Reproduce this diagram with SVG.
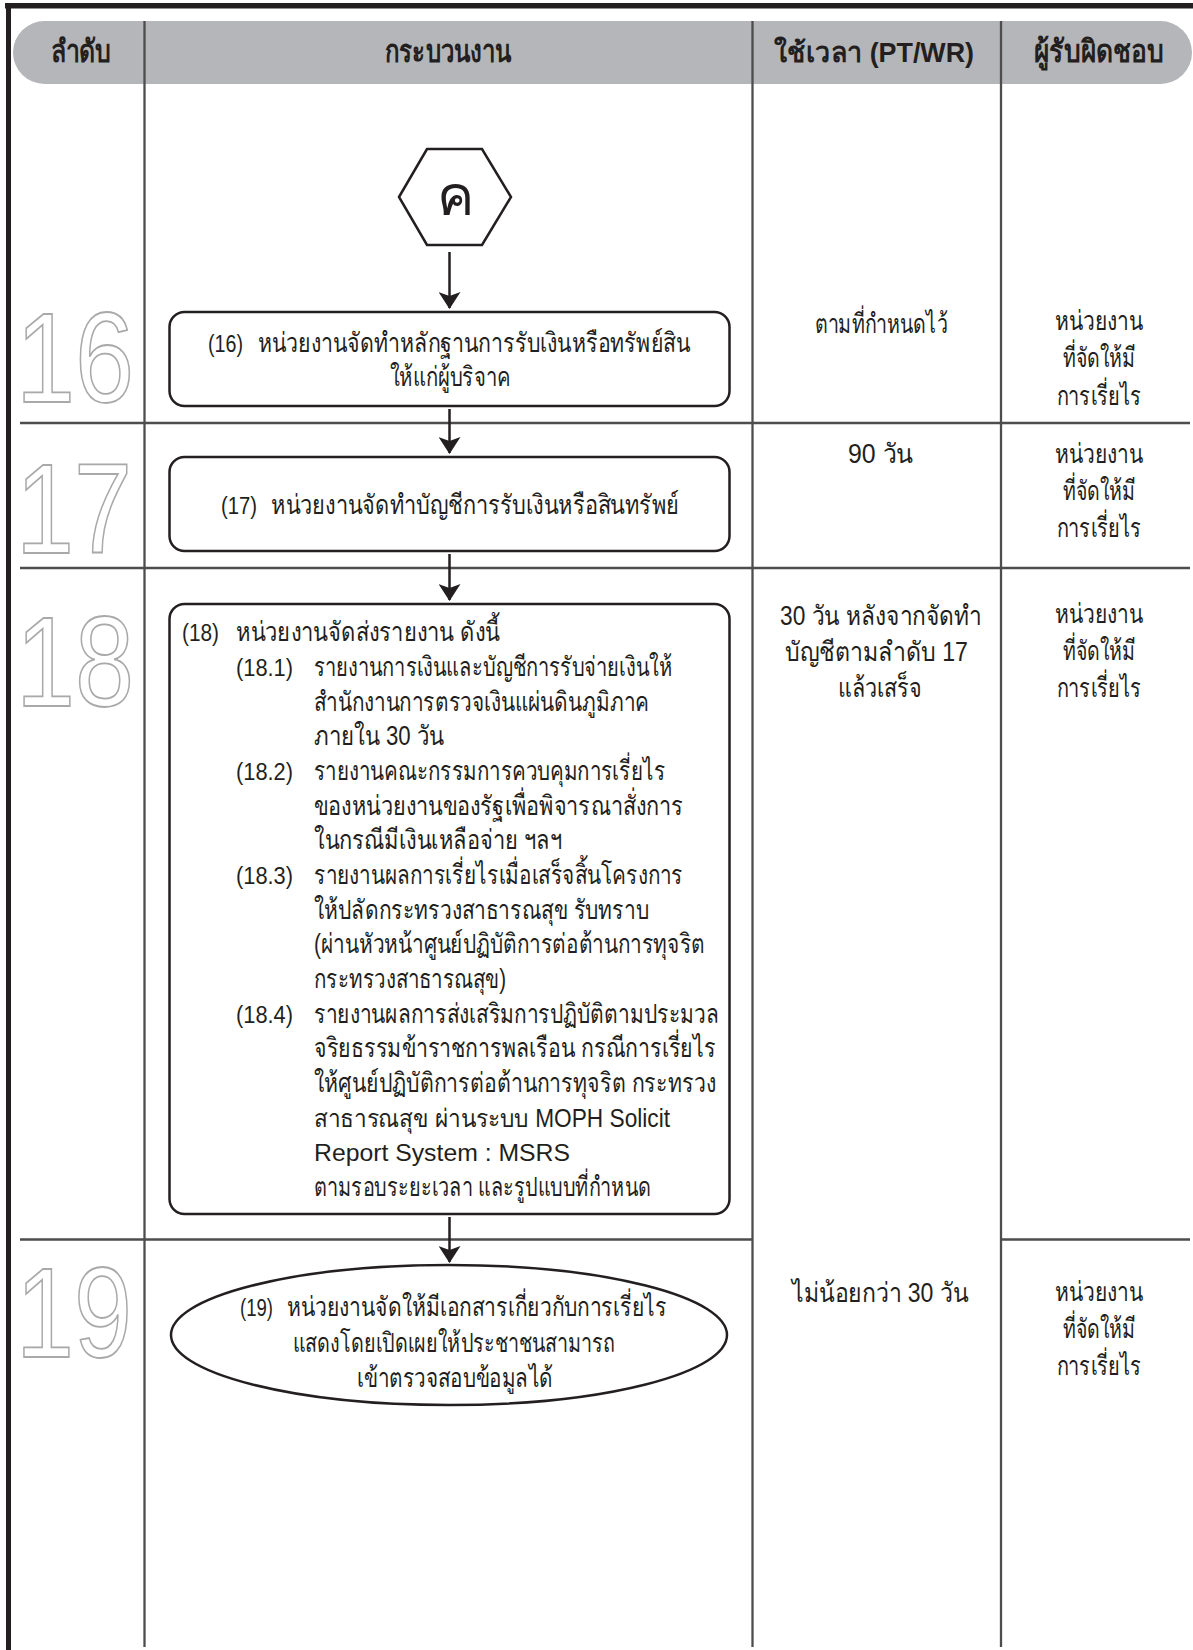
<svg xmlns="http://www.w3.org/2000/svg" width="1193" height="1650" viewBox="0 0 1193 1650">
<defs>
<style>
.grid{stroke:#4d4d4d;stroke-width:2.3;fill:none}
.box{fill:#fff;stroke:#231f20;stroke-width:2.5}
.big{font-family:"Liberation Sans",Arial,sans-serif;font-size:128px;fill:#fff;stroke:#a9a9ab;stroke-width:1.8}
.hd{font-family:"Liberation Sans","Noto Sans",sans-serif;font-size:31px;font-weight:bold;fill:#231f20;text-anchor:middle}
.t{font-family:"Liberation Sans","Noto Sans",sans-serif;font-size:27px;fill:#231f20}
.l{font-size:23px}
.m{font-size:25px}
.c{text-anchor:middle}
.conn{stroke:#231f20;stroke-width:2.5;fill:none}
</style>
<marker id="ah" viewBox="0 0 17 22" refX="16" refY="11" markerWidth="17" markerHeight="22" markerUnits="userSpaceOnUse" orient="auto">
<path d="M0,0 L17,11 L0,22 L4,11 Z" fill="#231f20"/>
</marker>
</defs>
<rect width="1193" height="1650" fill="#fff"/>
<g id="frame">
<rect x="5" y="3" width="1188" height="5.5" fill="#231f20"/>
<rect x="6" y="3" width="5" height="1647" fill="#231f20"/>
<rect x="13" y="21" width="1179" height="63" rx="31.5" ry="31.5" fill="#b5b6b9"/>
<line class="grid" x1="144.5" y1="21" x2="144.5" y2="1647"/>
<line class="grid" x1="752.5" y1="21" x2="752.5" y2="1647"/>
<line class="grid" x1="1001" y1="21" x2="1001" y2="1647"/>
<line class="grid" x1="20" y1="423" x2="1190" y2="423"/>
<line class="grid" x1="20" y1="568" x2="1190" y2="568"/>
<line class="grid" x1="20" y1="1239.5" x2="752.5" y2="1239.5"/>
<line class="grid" x1="1001" y1="1239.5" x2="1190" y2="1239.5"/>
<text class="hd" x="81" y="62" textLength="61" lengthAdjust="spacingAndGlyphs">ลำดับ</text>
<text class="hd" x="448" y="62" textLength="127" lengthAdjust="spacingAndGlyphs">กระบวนงาน</text>
<text class="hd" x="874" y="62" style="font-size:28px" textLength="200" lengthAdjust="spacingAndGlyphs">ใช้เวลา (PT/WR)</text>
<text class="hd" x="1099" y="62" textLength="130" lengthAdjust="spacingAndGlyphs">ผู้รับผิดชอบ</text>
<text class="big" x="16" y="402" textLength="118" lengthAdjust="spacingAndGlyphs">16</text>
<text class="big" x="16" y="553" textLength="116" lengthAdjust="spacingAndGlyphs">17</text>
<text class="big" x="16" y="706" textLength="118" lengthAdjust="spacingAndGlyphs">18</text>
<text class="big" x="16" y="1357" textLength="116" lengthAdjust="spacingAndGlyphs">19</text>
</g>
<g id="connectors">
<line class="conn" x1="449.5" y1="252" x2="449.5" y2="308" marker-end="url(#ah)"/>
<line class="conn" x1="449.5" y1="409" x2="449.5" y2="453" marker-end="url(#ah)"/>
<line class="conn" x1="449.5" y1="554" x2="449.5" y2="600" marker-end="url(#ah)"/>
<line class="conn" x1="449.5" y1="1217" x2="449.5" y2="1262" marker-end="url(#ah)"/>
</g>
<g id="node-k">
<polygon class="box" points="399,197 427,149 482,149 511,197 482,245 427,245"/>
<text class="t c" x="455" y="215" style="font-size:56px">ค</text>
</g>
<g id="node-16">
<rect class="box" x="169.5" y="312" width="560" height="94" rx="15"/>
<text class="t l" x="208" y="352" textLength="35" lengthAdjust="spacingAndGlyphs">(16)</text>
<text class="t" x="258" y="352" textLength="432" lengthAdjust="spacingAndGlyphs">หน่วยงานจัดทำหลักฐานการรับเงินหรือทรัพย์สิน</text>
<text class="t c" x="450" y="386" textLength="121" lengthAdjust="spacingAndGlyphs">ให้แก่ผู้บริจาค</text>
</g>
<g id="node-17">
<rect class="box" x="169.5" y="457" width="560" height="94" rx="15"/>
<text class="t l" x="221" y="514" textLength="36" lengthAdjust="spacingAndGlyphs">(17)</text>
<text class="t" x="271" y="514" textLength="408" lengthAdjust="spacingAndGlyphs">หน่วยงานจัดทำบัญชีการรับเงินหรือสินทรัพย์</text>
</g>
<g id="node-18">
<rect class="box" x="169.5" y="604" width="560" height="610" rx="15"/>
<text class="t l" x="182" y="641" textLength="37" lengthAdjust="spacingAndGlyphs">(18)</text>
<text class="t" x="236" y="641" textLength="264" lengthAdjust="spacingAndGlyphs">หน่วยงานจัดส่งรายงาน ดังนี้</text>
<text class="t l" x="236" y="676" textLength="57" lengthAdjust="spacingAndGlyphs">(18.1)</text>
<text class="t" x="314" y="676" textLength="358" lengthAdjust="spacingAndGlyphs">รายงานการเงินและบัญชีการรับจ่ายเงินให้</text>
<text class="t" x="314" y="711" textLength="335" lengthAdjust="spacingAndGlyphs">สำนักงานการตรวจเงินแผ่นดินภูมิภาค</text>
<text class="t" x="314" y="745" textLength="130" lengthAdjust="spacingAndGlyphs">ภายใน 30 วัน</text>
<text class="t l" x="236" y="780" textLength="57" lengthAdjust="spacingAndGlyphs">(18.2)</text>
<text class="t" x="314" y="780" textLength="351" lengthAdjust="spacingAndGlyphs">รายงานคณะกรรมการควบคุมการเรี่ยไร</text>
<text class="t" x="314" y="815" textLength="369" lengthAdjust="spacingAndGlyphs">ของหน่วยงานของรัฐเพื่อพิจารณาสั่งการ</text>
<text class="t" x="314" y="849" textLength="248" lengthAdjust="spacingAndGlyphs">ในกรณีมีเงินเหลือจ่าย ฯลฯ</text>
<text class="t l" x="236" y="884" textLength="57" lengthAdjust="spacingAndGlyphs">(18.3)</text>
<text class="t" x="314" y="884" textLength="369" lengthAdjust="spacingAndGlyphs">รายงานผลการเรี่ยไรเมื่อเสร็จสิ้นโครงการ</text>
<text class="t" x="314" y="919" textLength="335" lengthAdjust="spacingAndGlyphs">ให้ปลัดกระทรวงสาธารณสุข รับทราบ</text>
<text class="t" x="314" y="953" textLength="391" lengthAdjust="spacingAndGlyphs">(ผ่านหัวหน้าศูนย์ปฏิบัติการต่อต้านการทุจริต</text>
<text class="t" x="314" y="988" textLength="192" lengthAdjust="spacingAndGlyphs">กระทรวงสาธารณสุข)</text>
<text class="t l" x="236" y="1023" textLength="57" lengthAdjust="spacingAndGlyphs">(18.4)</text>
<text class="t" x="314" y="1023" textLength="405" lengthAdjust="spacingAndGlyphs">รายงานผลการส่งเสริมการปฏิบัติตามประมวล</text>
<text class="t" x="314" y="1057" textLength="402" lengthAdjust="spacingAndGlyphs">จริยธรรมข้าราชการพลเรือน กรณีการเรี่ยไร</text>
<text class="t" x="314" y="1092" textLength="402" lengthAdjust="spacingAndGlyphs">ให้ศูนย์ปฏิบัติการต่อต้านการทุจริต กระทรวง</text>
<text class="t m" x="314" y="1127" textLength="356" lengthAdjust="spacingAndGlyphs">สาธารณสุข ผ่านระบบ MOPH Solicit</text>
<text class="t l" x="314" y="1161" textLength="256" lengthAdjust="spacingAndGlyphs">Report System : MSRS</text>
<text class="t" x="314" y="1196" textLength="337" lengthAdjust="spacingAndGlyphs">ตามรอบระยะเวลา และรูปแบบที่กำหนด</text>
</g>
<g id="node-19">
<ellipse class="box" cx="449" cy="1335" rx="278" ry="70"/>
<text class="t l" x="240" y="1316" textLength="33" lengthAdjust="spacingAndGlyphs">(19)</text>
<text class="t" x="287" y="1316" textLength="380" lengthAdjust="spacingAndGlyphs">หน่วยงานจัดให้มีเอกสารเกี่ยวกับการเรี่ยไร</text>
<text class="t c" x="454" y="1352" textLength="322" lengthAdjust="spacingAndGlyphs">แสดงโดยเปิดเผยให้ประชาชนสามารถ</text>
<text class="t c" x="455" y="1387" textLength="196" lengthAdjust="spacingAndGlyphs">เข้าตรวจสอบข้อมูลได้</text>
</g>
<g id="col-time">
<text class="t c" x="881" y="333" textLength="133" lengthAdjust="spacingAndGlyphs">ตามที่กำหนดไว้</text>
<text class="t" x="848" y="463" textLength="65" lengthAdjust="spacingAndGlyphs">90 วัน</text>
<text class="t" x="780" y="625" textLength="202" lengthAdjust="spacingAndGlyphs">30 วัน หลังจากจัดทำ</text>
<text class="t" x="785" y="661" textLength="183" lengthAdjust="spacingAndGlyphs">บัญชีตามลำดับ 17</text>
<text class="t c" x="880" y="697" textLength="84" lengthAdjust="spacingAndGlyphs">แล้วเสร็จ</text>
<text class="t" x="792" y="1302" textLength="176" lengthAdjust="spacingAndGlyphs">ไม่น้อยกว่า 30 วัน</text>
</g>
<g id="col-owner">
<text class="t c" x="1099" y="330" textLength="88" lengthAdjust="spacingAndGlyphs">หน่วยงาน</text>
<text class="t c" x="1099" y="367" textLength="73" lengthAdjust="spacingAndGlyphs">ที่จัดให้มี</text>
<text class="t c" x="1099" y="405" textLength="85" lengthAdjust="spacingAndGlyphs">การเรี่ยไร</text>
<text class="t c" x="1099" y="463" textLength="88" lengthAdjust="spacingAndGlyphs">หน่วยงาน</text>
<text class="t c" x="1099" y="500" textLength="73" lengthAdjust="spacingAndGlyphs">ที่จัดให้มี</text>
<text class="t c" x="1099" y="537" textLength="85" lengthAdjust="spacingAndGlyphs">การเรี่ยไร</text>
<text class="t c" x="1099" y="623" textLength="88" lengthAdjust="spacingAndGlyphs">หน่วยงาน</text>
<text class="t c" x="1099" y="660" textLength="73" lengthAdjust="spacingAndGlyphs">ที่จัดให้มี</text>
<text class="t c" x="1099" y="697" textLength="85" lengthAdjust="spacingAndGlyphs">การเรี่ยไร</text>
<text class="t c" x="1099" y="1301" textLength="88" lengthAdjust="spacingAndGlyphs">หน่วยงาน</text>
<text class="t c" x="1099" y="1338" textLength="73" lengthAdjust="spacingAndGlyphs">ที่จัดให้มี</text>
<text class="t c" x="1099" y="1375" textLength="85" lengthAdjust="spacingAndGlyphs">การเรี่ยไร</text>
</g>
</svg>
